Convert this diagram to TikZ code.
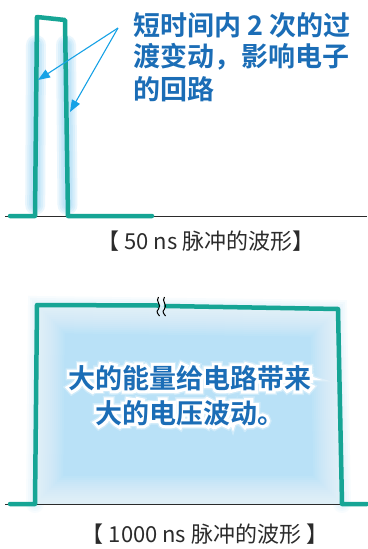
\documentclass[tikz,border=0pt]{standalone}
\usepackage{fontspec}
\newfontfamily\cjkb{Noto Sans CJK SC}
\newfontfamily\cjkbold{Noto Sans CJK SC Bold}
\newfontfamily\cjkoutl[FakeBold=22]{Noto Sans CJK SC Bold}
\newfontfamily\cjkhalo[FakeBold=32]{Noto Sans CJK SC Bold}
\usetikzlibrary{arrows.meta,calc}
\definecolor{teal1}{HTML}{16A595}
\definecolor{txtblue}{HTML}{1B6DB6}
\definecolor{arrblue}{HTML}{17A2E6}
\definecolor{glow}{HTML}{8FD2F4}
\definecolor{fillblue}{HTML}{B9E1F7}
\definecolor{labgray}{HTML}{2B2B2B}
\tikzset{
  pulse/.style={teal1, line width=4.5pt, line cap=round, line join=round},
  base/.style={labgray, line width=0.9pt},
  callout/.style={arrblue, line width=1.1pt, -{Triangle[length=12pt,width=9pt]}},
  headtext/.style={font=\cjkbold\fontsize{27}{30}\selectfont, text=txtblue, inner sep=0pt, anchor=west},
  bigtext/.style={font=\cjkbold\fontsize{27}{30}\selectfont, text=txtblue, inner sep=0pt},
  outline/.style={font=\cjkoutl\fontsize{27}{30}\selectfont, text=white, inner sep=0pt},
  halo/.style={font=\cjkhalo\fontsize{27}{30}\selectfont, text=white, inner sep=0pt, opacity=0.3},
  labeltext/.style={font=\cjkb\fontsize{22}{24}\selectfont, text=labgray, inner sep=0pt},
  glowline/.style={glow, line cap=round, opacity=0.18},
}
\begin{document}
\begin{tikzpicture}[x=1pt,y=-1pt]
\useasboundingbox (0,0) rectangle (367,549);
\fill[white] (0,0) rectangle (367,549);

% ---------- top: 50 ns pulse ----------
\coordinate (t0) at (10,216);
\coordinate (t1) at (35,216);
\coordinate (t2) at (37,17);
\coordinate (t3) at (65,20);
\coordinate (t4) at (68,216);
\coordinate (t5) at (152,216);
\coordinate (bl1) at (5,216);
\coordinate (br1) at (367,216);
% glow
\foreach \w in {20,16,12,9}{
  \draw[glowline, line width=\w pt] (36,45) -- (35.2,205);
  \draw[glowline, line width=\w pt] (66,45) -- (67.5,205);
}
\draw[base] (bl1) -- (br1);
\draw[pulse] (t0) -- (t1) -- (t2) -- (t3) -- (t4) -- (t5);

\coordinate (asrc) at (118,28);
\coordinate (a1) at (38,80);
\coordinate (a2) at (70,112);
\draw[callout] (asrc) -- (a1);
\draw[callout] (asrc) -- (a2);

\node[headtext] (h1) at (133,25) {短时间内 2 次的过};
\node[headtext] (h2) at (133,57) {渡变动，影响电子};
\node[headtext] (h3) at (133,89) {的回路};

\node[labeltext] (lab1) at (206,241) {【 50 ns 脉冲的波形】};

% ---------- bottom: 1000 ns pulse ----------
\coordinate (b0) at (10,504);
\coordinate (b1) at (35,504);
\coordinate (b2) at (37,305);
\coordinate (bm1) at (158,305.5);
\coordinate (bm2) at (166,306);
\coordinate (b3) at (338,309);
\coordinate (b4) at (342,504);
\coordinate (b5) at (367,504);
\coordinate (bl2) at (5,504);
\coordinate (br2) at (367,504);

% outer faint glow
\foreach \w in {18,14,10,6}{
  \draw[glowline, opacity=0.06, line width=\w pt] (b1) -- (b2) -- (b3) -- (b4);
}
\begin{scope}
  \clip (b1) -- (b2) -- (b3) -- (b4) -- cycle;
  \fill[fillblue] (b1) -- (b2) -- (b3) -- (b4) -- cycle;
  \foreach \w in {56,52,...,8}{
    \draw[white, opacity=0.07, line width=\w pt, line join=round] (b1) -- (b2) -- (b3) -- (b4) -- cycle;
  }
\end{scope}
\draw[base] (bl2) -- (br2);
\draw[pulse] (b0) -- (b1) -- (b2) -- (bm1);
\draw[pulse] (bm2) -- (b3) -- (b4) -- (b5);
% break mark
\draw[black, line width=1pt] (158.5,297) .. controls (155,301) and (162,305) .. (158.5,309) .. controls (155.5,312) and (158,314) .. (159.5,316);
\draw[black, line width=1pt] (164.5,297) .. controls (161,301) and (168,305) .. (164.5,309) .. controls (161.5,312) and (164,314) .. (165.5,316);

% halo, outline and text
\node[halo] (m1h) at (190,378) {大的能量给电路带来};
\node[halo] (m2h) at (190,413) {大的电压波动。};
\node[outline] (m1o) at (190,378) {大的能量给电路带来};
\node[outline] (m2o) at (190,413) {大的电压波动。};
\node[bigtext] (m1) at (190,378) {大的能量给电路带来};
\node[bigtext] (m2) at (190,413) {大的电压波动。};

\node[labeltext] (lab2) at (205,534) {【 1000 ns 脉冲的波形 】};
\end{tikzpicture}
\end{document}
